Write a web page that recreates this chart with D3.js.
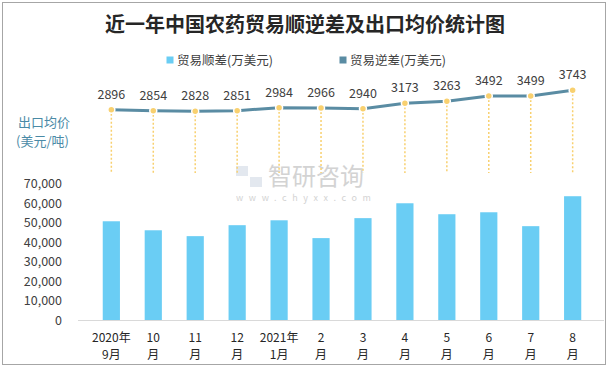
<!DOCTYPE html>
<html>
<head>
<meta charset="utf-8">
<script src="https://cdn.jsdelivr.net/npm/d3@7"></script>
<style>
  body { margin: 0; background: #fff; }
  text { font-family: "Noto Sans CJK SC", "Noto Sans", sans-serif; }
</style>
</head>
<body>
<div id="chart"></div>
<script>
// month labels, two lines each
const months = ["2020年|9月", "10|月", "11|月", "12|月", "2021年|1月", "2|月", "3|月", "4|月", "5|月", "6|月", "7|月", "8|月"];
// 贸易顺差(万美元)
const surplus = [50700, 46100, 43100, 48700, 51200, 42100, 52300, 59900, 54300, 55300, 48200, 63500];
// 出口均价(美元/吨)
const price = [2896, 2854, 2828, 2851, 2984, 2966, 2940, 3173, 3263, 3492, 3499, 3743];
const yTicks = [0, 10000, 20000, 30000, 40000, 50000, 60000, 70000];

const width = 610, height = 370;
const barColor = "#6ACDF4", lineColor = "#5A8CA3", dotColor = "#F8D06F";

const svg = d3.select("#chart").append("svg")
  .attr("width", width)
  .attr("height", height);

// outer frame
svg.append("rect")
  .attr("x", 2.5).attr("y", 2.5)
  .attr("width", 603).attr("height", 362)
  .attr("fill", "#fff")
  .attr("stroke", "#A6A6A6");

svg.append("text")
  .attr("x", 305).attr("y", 32)
  .attr("text-anchor", "middle")
  .attr("font-size", 20)
  .attr("font-weight", "bold")
  .attr("fill", "#262626")
  .text("近一年中国农药贸易顺逆差及出口均价统计图");

// legend
const legend = [
  { label: "贸易顺差(万美元)", color: barColor, x: 170 },
  { label: "贸易逆差(万美元)", color: lineColor, x: 343 }
];
const lg = svg.selectAll(".legend").data(legend).enter().append("g")
  .attr("transform", (d) => `translate(${d.x},60)`);
lg.append("rect").attr("x", -3.5).attr("y", -3.5).attr("width", 7).attr("height", 7)
  .attr("fill", (d) => d.color);
lg.append("text").attr("x", 7).attr("y", 4.5)
  .attr("font-size", 12.5).attr("fill", "#404040")
  .text((d) => d.label);

// watermark
const wm = svg.append("g").attr("opacity", 0.5);
wm.append("rect").attr("x", 236).attr("y", 166).attr("width", 12).attr("height", 10).attr("fill", "#c9d3e0");
wm.append("rect").attr("x", 250).attr("y", 177).attr("width", 12).attr("height", 10).attr("fill", "#c9d3e0");
wm.append("text").attr("x", 268).attr("y", 185).attr("font-size", 24).attr("fill", "#a8a8a8").text("智研咨询");
wm.append("text").attr("x", 236).attr("y", 201).attr("font-size", 9).attr("letter-spacing", 5.6)
  .attr("fill", "#a8a8a8").text("www.chyxx.com");

// scales
const x = d3.scaleBand().domain(months).range([78, 606]).padding(0.59);
const y = d3.scaleLinear().domain([0, 70000]).range([320.5, 183.5]);
const yp = d3.scaleLinear().domain([2800, 3800]).range([111.9, 89]);
const cx = (m) => x(m) + x.bandwidth() / 2;

// y axis labels
const yAxis = d3.axisLeft(y).tickValues(yTicks).tickSize(0).tickPadding(0)
  .tickFormat(d3.format(","));
svg.append("g").attr("transform", "translate(62,0)").call(yAxis)
  .call((g) => g.select(".domain").remove())
  .selectAll("text")
  .attr("font-size", 12.5).attr("fill", "#404040")
  .attr("font-family", "\"Noto Sans CJK SC\", sans-serif");

// bars
svg.selectAll(".bar").data(surplus).enter().append("rect")
  .attr("x", (d, i) => x(months[i]))
  .attr("y", (d) => y(d))
  .attr("width", x.bandwidth())
  .attr("height", (d) => y(0) - y(d))
  .attr("fill", barColor);

// x axis
svg.append("line")
  .attr("x1", 78).attr("x2", 604)
  .attr("y1", y(0)).attr("y2", y(0))
  .attr("stroke", "#D9D9D9");

[0, 1].forEach((row) => {
  svg.selectAll(".xlab" + row).data(months).enter().append("text")
    .attr("x", (d) => cx(d))
    .attr("y", row ? 359 : 342)
    .attr("text-anchor", "middle")
    .attr("font-size", 12).attr("fill", "#262626")
    .text((d) => d.split("|")[row]);
});

// dotted drop lines
svg.selectAll(".drop").data(price).enter().append("line")
  .attr("x1", (d, i) => cx(months[i])).attr("x2", (d, i) => cx(months[i]))
  .attr("y1", (d) => yp(d)).attr("y2", 173)
  .attr("stroke", dotColor).attr("stroke-width", 1.5)
  .attr("stroke-dasharray", "2,2");

// price line
const line = d3.line().x((d, i) => cx(months[i])).y((d) => yp(d));
svg.append("path").datum(price)
  .attr("d", line)
  .attr("fill", "none")
  .attr("stroke", lineColor)
  .attr("stroke-width", 3);

svg.selectAll(".pt").data(price).enter().append("circle")
  .attr("cx", (d, i) => cx(months[i]))
  .attr("cy", (d) => yp(d))
  .attr("r", 3.5)
  .attr("fill", dotColor)
  .attr("stroke", "#fff").attr("stroke-width", 1.5);

svg.selectAll(".plab").data(price).enter().append("text")
  .attr("x", (d, i) => cx(months[i]))
  .attr("y", (d) => yp(d) - 11)
  .attr("text-anchor", "middle")
  .attr("font-size", 12.5).attr("fill", "#404040")
  .text((d) => d);

// left label for price
svg.append("text").attr("x", 18).attr("y", 127)
  .attr("font-size", 13).attr("fill", "#4A8AA6").text("出口均价");
svg.append("text").attr("x", 16).attr("y", 146)
  .attr("font-size", 13).attr("fill", "#4A8AA6").text("(美元/吨)");
</script>
</body>
</html>
